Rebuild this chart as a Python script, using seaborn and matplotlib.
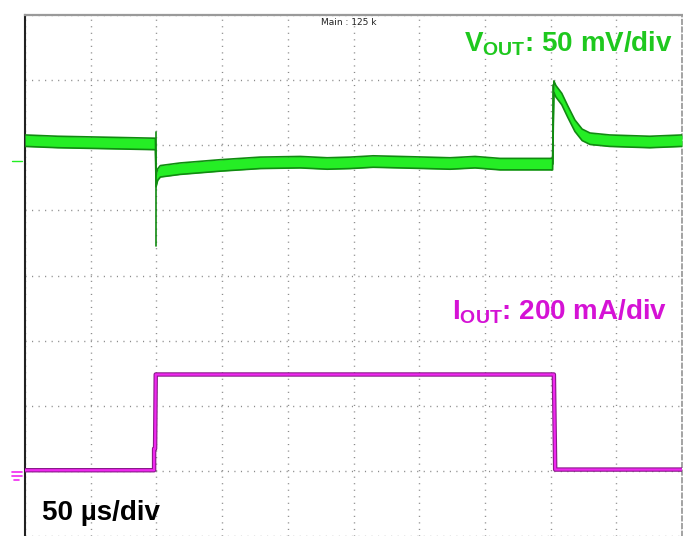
import matplotlib
matplotlib.use("Agg")
import matplotlib.pyplot as plt
import seaborn as sns
import numpy as np

# time in screen divisions (50 us/div), levels in screen divisions (0 = bottom row)
vout_t = [0.0, 0.5, 1.0, 1.5, 1.985, 1.995, 2.02, 2.06, 2.36, 2.97, 3.58, 4.19, 4.6, 4.95,
          5.3, 5.71, 6.1, 6.47, 6.85, 7.23, 7.6, 8.03, 8.05, 8.08, 8.17, 8.26, 8.37,
          8.48, 8.6, 8.9, 9.2, 9.51, 10.0]
vout_v = [6.07, 6.05, 6.04, 6.03, 6.02, 5.45, 5.55, 5.6, 5.64, 5.69, 5.73, 5.74, 5.72, 5.73,
          5.75, 5.74, 5.73, 5.72, 5.74, 5.71, 5.71, 5.71, 6.9, 6.83, 6.71, 6.52, 6.3,
          6.16, 6.1, 6.07, 6.06, 6.05, 6.07]
# thin undershoot / overshoot spikes at the load steps
spike_dn_t = [1.99, 1.99]
spike_dn_v = [6.2, 4.45]
spike_up_t = [8.04, 8.04]
spike_up_v = [5.71, 6.93]

iout_t = [0.0, 1.965, 1.965, 1.98, 1.99, 8.05, 8.07, 10.0]
iout_v = [1.01, 1.01, 1.34, 1.34, 2.48, 2.48, 1.02, 1.02]

vout_ref = 5.76   # channel marker on the left edge
iout_ref = 1.0    # ground marker

vout_label = r"$\mathbf{V_{OUT}}$: 50 mV/div"
iout_label = r"$\mathbf{I_{OUT}}$: 200 mA/div"
time_label = "50 µs/div"
top_label = "Main : 125 k"

green_core = "#25ee25"
green_edge = "#118a11"
green_text = "#1ec81e"
mag_core = "#f028f0"
mag_edge = "#8a1a8a"
mag_text = "#d512d5"

sns.set_theme(style="white")
plt.rcParams["font.family"] = ["Liberation Sans", "DejaVu Sans"]
plt.rcParams["mathtext.fontset"] = "custom"
plt.rcParams["mathtext.bf"] = "Liberation Sans:bold"
plt.rcParams["mathtext.rm"] = "Liberation Sans"

fig = plt.figure(figsize=(6.83, 5.36), dpi=100)
ax = fig.add_axes([25 / 683, 0, 657 / 683, 521 / 536])
div_px = 65.7
ax.set_xlim(0, 10)
ax.set_ylim(8 - 521 / div_px, 8)

# scope graticule
ax.set_xticks(np.arange(0, 11))
ax.set_yticks(np.arange(0, 9))
ax.set_axisbelow(True)
ax.grid(True, color="#8a8a8a", lw=1.0, ls=(0, (0.8, 3.9)))
ax.tick_params(length=0, labelbottom=False, labelleft=False)
ax.spines["bottom"].set_visible(False)
ax.spines["top"].set_color("#9a9a9a")
ax.spines["top"].set_linewidth(1.6)
ax.spines["left"].set_color("#222222")
ax.spines["left"].set_linewidth(1.5)
ax.spines["left"].set_linestyle((0, (4, 1)))
ax.spines["right"].set_color("#8a8a8a")
ax.spines["right"].set_linewidth(1.1)
ax.spines["right"].set_linestyle((0, (3, 2)))

# VOUT trace as a noisy band
hw = 0.088
vt = np.array(vout_t)
vv = np.array(vout_v)
ax.fill_between(vt, vv - hw, vv + hw, color=green_core, lw=0, zorder=3)
sns.lineplot(x=vt, y=vv + hw, color=green_edge, lw=1.2, estimator=None, sort=False, ax=ax, zorder=4)
sns.lineplot(x=vt, y=vv - hw, color=green_edge, lw=1.2, estimator=None, sort=False, ax=ax, zorder=4)
sns.lineplot(x=spike_dn_t, y=spike_dn_v, color=green_edge, lw=1.2, estimator=None, sort=False, ax=ax, zorder=4)
sns.lineplot(x=spike_up_t, y=spike_up_v, color=green_edge, lw=1.2, estimator=None, sort=False, ax=ax, zorder=4)

# IOUT trace
sns.lineplot(x=iout_t, y=iout_v, color=mag_edge, lw=3.2, estimator=None, sort=False, ax=ax, zorder=3)
sns.lineplot(x=iout_t, y=iout_v, color=mag_core, lw=1.6, estimator=None, sort=False, ax=ax, zorder=4)

# channel markers outside the left edge
ax.plot([-0.2, -0.05], [vout_ref, vout_ref], color="#22ee22", lw=1.0, clip_on=False)
for i, w in enumerate([0.15, 0.15, 0.07]):
    y = iout_ref - 0.02 - i * 0.06
    ax.plot([-0.125 - w / 2, -0.125 + w / 2], [y, y], color=mag_core, lw=1.2, clip_on=False)

# annotations
ax.text(9.86, 7.44, vout_label, color=green_text, fontsize=20, fontweight="bold",
        ha="right", va="baseline", zorder=6)
ax.text(9.77, 3.32, iout_label, color=mag_text, fontsize=20, fontweight="bold",
        ha="right", va="baseline", zorder=6)
ax.text(0.26, 0.25, time_label, color="black", fontsize=20, fontweight="bold",
        ha="left", va="baseline", zorder=6)
ax.text(4.93, 7.89, top_label, color="#222222", fontsize=6.5, family="DejaVu Sans",
        ha="center", va="center", zorder=6)

fig.savefig("out.png", dpi=100)
